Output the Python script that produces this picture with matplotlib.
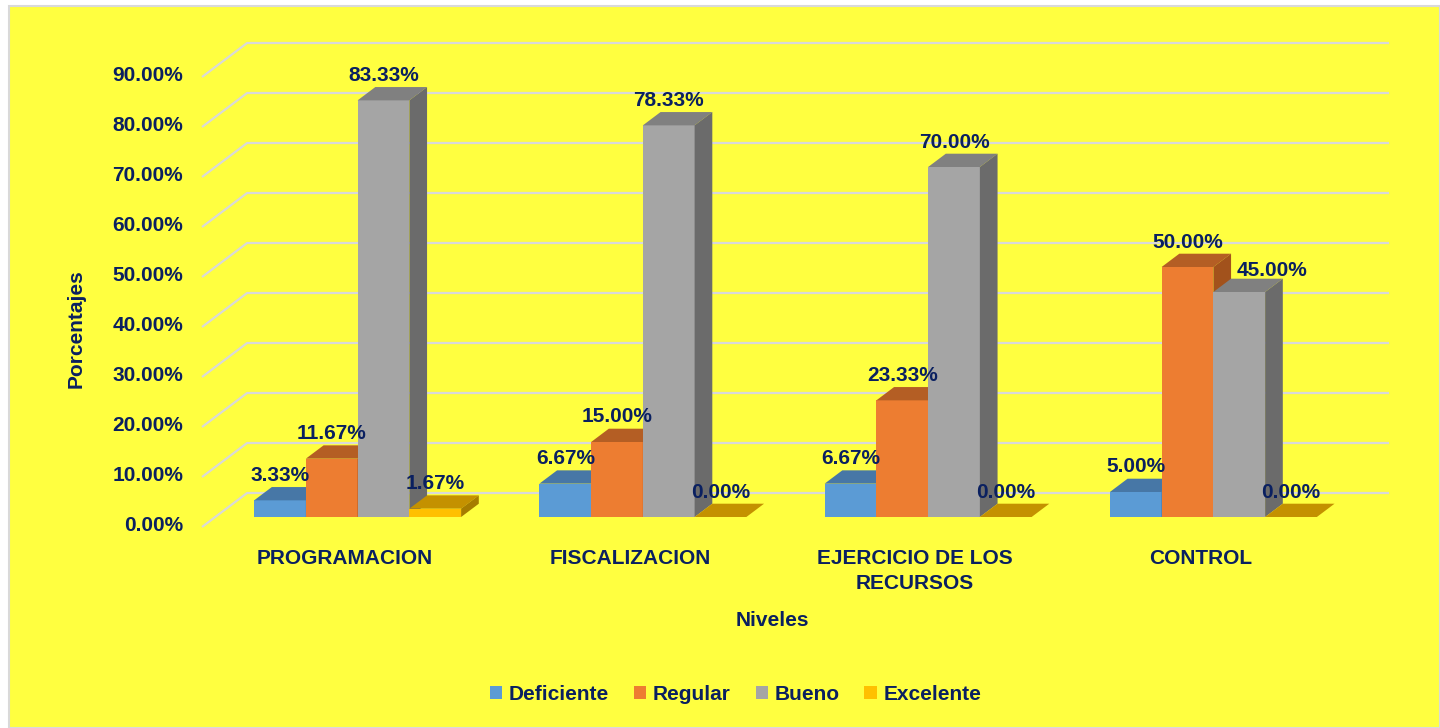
import matplotlib.pyplot as plt
from matplotlib.patches import Polygon, Rectangle, Patch

plt.rcParams['font.family'] = ['Liberation Sans', 'DejaVu Sans']
plt.rcParams['font.weight'] = 'bold'

# ---------------- data ----------------
categorias = ['PROGRAMACION', 'FISCALIZACION', 'EJERCICIO DE LOS\nRECURSOS', 'CONTROL']
niveles = ['Deficiente', 'Regular', 'Bueno', 'Excelente']
deficiente = [3.33, 6.67, 6.67, 5.00]
regular = [11.67, 15.00, 23.33, 50.00]
bueno = [83.33, 78.33, 70.00, 45.00]
excelente = [1.67, 0.00, 0.00, 0.00]
ticks_y = [0, 10, 20, 30, 40, 50, 60, 70, 80, 90]

series = [deficiente, regular, bueno, excelente]
# front, top, side colours per serie
colores = [('#5B9BD5', '#4777A6', '#3E6A95'),
           ('#ED7D31', '#B45E24', '#A2521C'),
           ('#A5A5A5', '#808080', '#6B6B6B'),
           ('#FFC000', '#C49100', '#A67C00')]
txt_color = '#0a2060'
fs = 15

# ---------------- figure ----------------
fig = plt.figure(figsize=(14.4, 7.28), dpi=100, facecolor='white')
fig.patches.append(Rectangle((9 / 1440, 0), 1431 / 1440, 722 / 728, transform=fig.transFigure,
                             facecolor='#FFFF40', edgecolor='#D9D9D9', lw=1.5, zorder=-1))
ax = fig.add_axes([215 / 1440, (728 - 527) / 728, 1141 / 1440, 490 / 728])
ax.set_xlim(-0.5, 3.5)
ax.set_ylim(-2, 96)
ax.axis('off')

# pseudo 3D offsets (data units)
FX, FY = -0.0456, -2.0      # front edge of floor vs bar plane
WX, WY = 0.158, 6.8         # wall depth
BX, BY = 0.062, 2.66        # bar depth
w = 0.1814                  # bar width

# grid lines: diagonal on the floor side + back wall line
x_front = -0.5 + FX
x_end = 3.6158
for v in ticks_y:
    ax.plot([x_front, x_front + WX, x_end], [v + FY, v + FY + WY, v + FY + WY],
            color='#D9D9D9', lw=1.6, zorder=1, solid_capstyle='butt', clip_on=False)
    ax.text(-0.612, v - 1.7, f'{v:.2f}%', ha='right', va='center', fontsize=fs,
            color=txt_color, clip_on=False)

# bars
for j in range(len(categorias)):
    for i, vals in enumerate(series):
        h = vals[j]
        left = j - 2 * w + i * w
        cf, ct, cs = colores[i]
        z = 3 + i
        ax.bar(left, h, width=w, align='edge', color=cf, zorder=z, lw=0)
        ax.add_patch(Polygon([(left, h), (left + w, h), (left + w + BX, h + BY), (left + BX, h + BY)],
                             closed=True, facecolor=ct, lw=0, zorder=z))
        ax.add_patch(Polygon([(left + w, 0), (left + w, h), (left + w + BX, h + BY), (left + w + BX, BY)],
                             closed=True, facecolor=cs, lw=0, zorder=z))
        dx = 0.115 if (j == 3 and i == 2) else 0.0
        dy = -0.6 if (j == 3 and i == 2) else 0.0
        ax.text(left + w / 2 + dx, h + 5.0 + dy, f'{h:.2f}%', ha='center', va='center',
                fontsize=fs, color=txt_color, zorder=10, clip_on=False)

# category labels
for j, cat in enumerate(categorias):
    ax.text(j - 0.0456, -6.3, cat, ha='center', va='top', fontsize=fs, color=txt_color,
            linespacing=1.45, clip_on=False)

# axis titles
ax.text(1.454, -20.8, 'Niveles', ha='center', va='center', fontsize=fs, color=txt_color, clip_on=False)
ax.text(-0.988, 37.6, 'Porcentajes', ha='center', va='center', rotation=90, fontsize=fs,
        color=txt_color, clip_on=False)

# legend
handles = [Patch(facecolor=c[0], lw=0) for c in colores]
fig.legend(handles, niveles, loc='center', bbox_to_anchor=(735.5 / 1440, 1 - 694 / 728), ncol=4,
           frameon=False, handlelength=0.6, handleheight=0.6, handletextpad=0.3,
           columnspacing=1.2, fontsize=fs, labelcolor=txt_color)

plt.savefig('out.png', dpi=100, facecolor=fig.get_facecolor())
